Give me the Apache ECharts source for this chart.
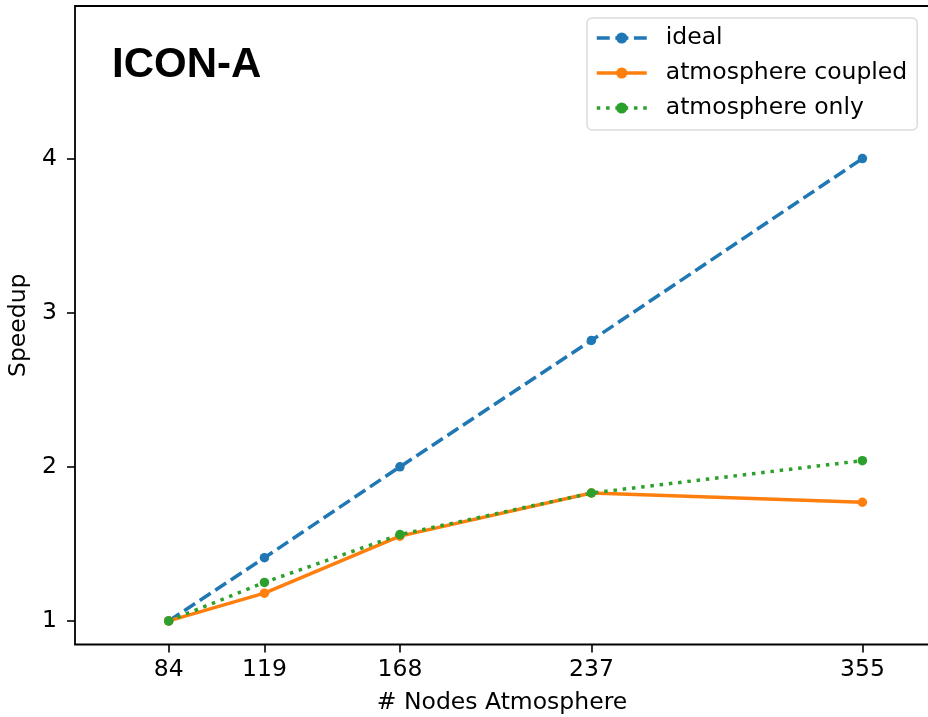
<!DOCTYPE html>
<html>
<head>
<meta charset="utf-8">
<script src="https://cdn.jsdelivr.net/npm/echarts@6/dist/echarts.min.js"></script>
<style>
html,body{margin:0;padding:0;background:#fff;}
#chart{width:928px;height:717px;}
</style>
</head>
<body>
<div id="chart"></div>
<script>
// x positions (relative node scale, 84 * sqrt(2)^k) and their tick labels
const nodeScale = [1, 1.414, 2, 2.828, 4];
const nodeLabels = ['84', '119', '168', '237', '355'];
const yTicks = [1, 2, 3, 4];
const ideal = [1, 1.41, 2, 2.82, 4];
const coupled = [1, 1.18, 1.55, 1.83, 1.77];
const atmOnly = [1, 1.25, 1.56, 1.83, 2.04];
const seriesNames = ['ideal', 'atmosphere coupled', 'atmosphere only'];
const seriesColors = ['#1f77b4', '#ff7f0e', '#2ca02c'];
const seriesDashes = [[13, 5.6], 'solid', [3.5, 5.8]];

const FONT = 'DejaVu Sans';
const pair = (ys) => nodeScale.map((x, i) => [x, ys[i]]);

const chart = echarts.init(document.getElementById('chart'), null, {renderer: 'canvas'});

function lineSeries(idx, ys) {
  const color = seriesColors[idx];
  return {
    name: seriesNames[idx],
    type: 'line',
    data: pair(ys),
    symbol: 'circle',
    symbolSize: 9.5,
    showSymbol: true,
    itemStyle: {color: color},
    lineStyle: {color: color, width: 3.5, type: seriesDashes[idx], cap: 'butt'},
    emphasis: {disabled: true},
    animation: false,
    z: 3
  };
}

chart.setOption({
  animation: false,
  backgroundColor: '#fff',
  title: {
    text: 'ICON-A',
    left: 107,
    top: 39,
    textStyle: {fontFamily: 'Liberation Sans', fontWeight: 'bold', fontSize: 42, color: '#000'}
  },
  legend: {
    orient: 'vertical',
    left: 587,
    top: 18,
    padding: [8, 10, 10, 8],
    itemWidth: 50,
    itemHeight: 14,
    itemGap: 11,
    backgroundColor: '#fff',
    borderColor: '#dcdcdc',
    borderWidth: 1.5,
    borderRadius: 5,
    textStyle: {fontFamily: FONT, fontSize: 23.5, color: '#000', lineHeight: 24, padding: [0, 0, 0, 14]},
    data: seriesNames.map((n, i) => ({
      name: n,
      itemStyle: {color: seriesColors[i]},
      lineStyle: {color: seriesColors[i], width: 3.5, type: seriesDashes[i], cap: 'butt'}
    })),
    selectedMode: false
  },
  grid: {
    left: 75,
    top: 6,
    width: 854,
    height: 638.5,
    show: true,
    borderColor: '#000',
    borderWidth: 1.8,
    backgroundColor: 'transparent',
    containLabel: false,
    outerBoundsMode: 'none'
  },
  xAxis: {
    type: 'value',
    min: 0.5947,
    max: 4.288,
    splitLine: {show: false},
    axisLine: {show: false},
    axisTick: {show: true, inside: false, length: 8, lineStyle: {color: '#000', width: 1.6}, customValues: nodeScale},
    axisLabel: {
      customValues: nodeScale,
      fontFamily: FONT, fontSize: 23.5, color: '#000',
      margin: 25, verticalAlign: 'middle',
      formatter: function (v) {
        let best = 0;
        nodeScale.forEach((x, i) => { if (Math.abs(x - v) < Math.abs(nodeScale[best] - v)) best = i; });
        return nodeLabels[best];
      }
    },
    name: '# Nodes Atmosphere',
    nameLocation: 'middle',
    nameGap: 58,
    nameTextStyle: {fontFamily: FONT, fontSize: 23.5, color: '#000', verticalAlign: 'middle'}
  },
  yAxis: {
    type: 'value',
    min: 0.847,
    max: 4.99,
    splitLine: {show: false},
    axisLine: {show: false},
    axisTick: {show: true, inside: false, length: 8, lineStyle: {color: '#000', width: 1.6}, customValues: yTicks},
    axisLabel: {
      customValues: yTicks,
      fontFamily: FONT, fontSize: 23.5, color: '#000', margin: 18
    },
    name: 'Speedup',
    nameLocation: 'middle',
    nameRotate: 90,
    nameGap: 51,
    nameTextStyle: {fontFamily: FONT, fontSize: 23.5, color: '#000', verticalAlign: 'middle'}
  },
  series: [
    lineSeries(0, ideal),
    lineSeries(1, coupled),
    lineSeries(2, atmOnly)
  ]
});
</script>
</body>
</html>
